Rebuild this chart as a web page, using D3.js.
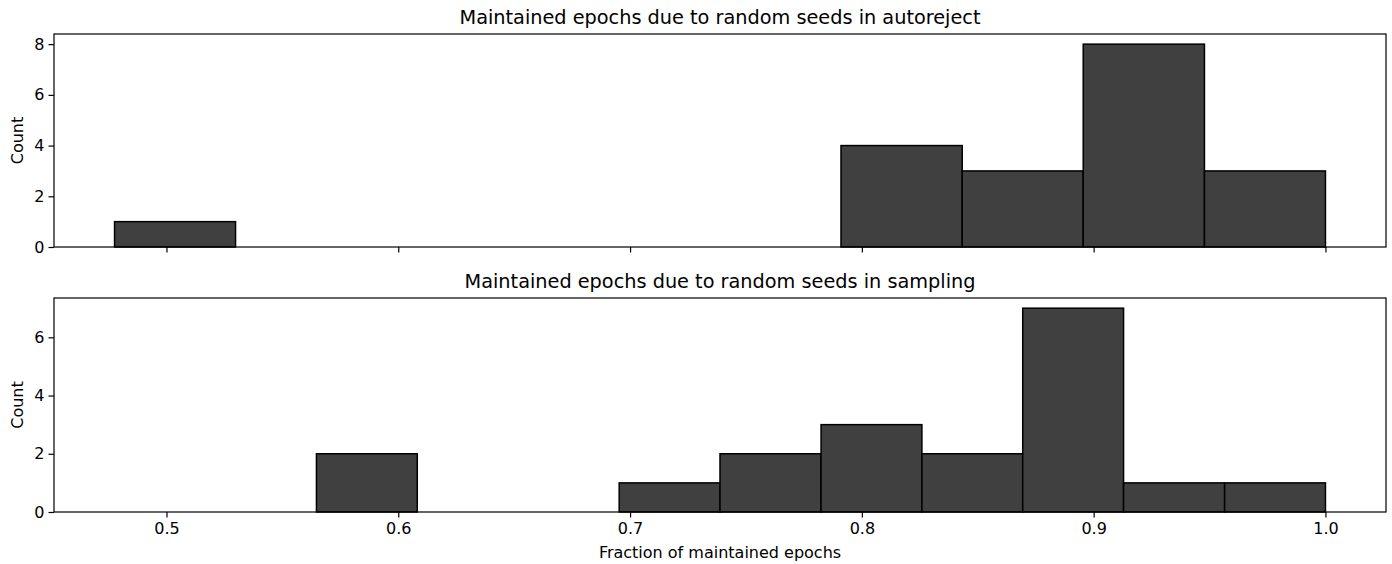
<!DOCTYPE html>
<html>
<head>
<meta charset="utf-8">
<script src="https://cdn.jsdelivr.net/npm/d3@7"></script>
<style>
  body { margin: 0; background: #fff; }
  text { font-family: "DejaVu Sans", sans-serif; fill: #000; }
</style>
</head>
<body>
<svg id="chart" width="1392" height="564"></svg>
<script>
// Data
const titles = ["Maintained epochs due to random seeds in autoreject",
                "Maintained epochs due to random seeds in sampling"];
const edgesAutoreject = [0.4776, 0.5298, 0.5821, 0.6343, 0.6866, 0.7388, 0.7910, 0.8433, 0.8955, 0.9478, 1.0];
const countsAutoreject = [1, 0, 0, 0, 0, 0, 4, 3, 8, 3];
const edgesSampling = [0.5647, 0.6082, 0.6518, 0.6953, 0.7388, 0.7824, 0.8259, 0.8694, 0.9129, 0.9565, 1.0];
const countsSampling = [2, 0, 0, 1, 2, 3, 2, 7, 1, 1];
const xTicks = [0.5, 0.6, 0.7, 0.8, 0.9, 1.0];
const yTicksAutoreject = [0, 2, 4, 6, 8];
const yTicksSampling = [0, 2, 4, 6];
const xLabel = "Fraction of maintained epochs";
const yLabel = "Count";

const svg = d3.select("#chart");
const left = 54, right = 1386;
const xmin = 0.4776, xmax = 1.0, pad = (xmax - xmin) * 0.05;
const x = d3.scaleLinear().domain([xmin - pad, xmax + pad]).range([left, right]);
const tickFont = "16px", titleFont = "19.3px";

const panels = [
  {top: 34, bottom: 247, edges: edgesAutoreject, counts: countsAutoreject, yTicks: yTicksAutoreject, title: titles[0], showX: false},
  {top: 298, bottom: 512, edges: edgesSampling, counts: countsSampling, yTicks: yTicksSampling, title: titles[1], showX: true}
];

panels.forEach(p => {
  const ymax = d3.max(p.counts) * 1.05;
  const y = d3.scaleLinear().domain([0, ymax]).range([p.bottom, p.top]);
  const g = svg.append("g");
  const bins = p.counts.map((c, i) => ({x0: p.edges[i], x1: p.edges[i + 1], c}));
  g.selectAll("rect.bar").data(bins).enter().append("rect")
    .attr("class", "bar")
    .attr("x", d => x(d.x0))
    .attr("width", d => x(d.x1) - x(d.x0))
    .attr("y", d => y(d.c))
    .attr("height", d => y(0) - y(d.c))
    .attr("fill", "#404040")
    .attr("stroke", "#000")
    .attr("stroke-width", 1.5);

  // frame
  g.append("rect").attr("x", left).attr("y", p.top)
    .attr("width", right - left).attr("height", p.bottom - p.top)
    .attr("fill", "none").attr("stroke", "#000").attr("stroke-width", 1.2);

  // y axis
  const ya = d3.axisLeft(y).tickValues(p.yTicks).tickFormat(d3.format("d")).tickSize(5.5).tickPadding(4);
  const yg = g.append("g").attr("transform", `translate(${left},0)`).call(ya);
  yg.select(".domain").remove();
  yg.selectAll("line").attr("stroke", "#000").attr("stroke-width", 1.2);
  yg.selectAll("text").attr("font-size", tickFont).attr("font-family", "DejaVu Sans").attr("fill", "#000");

  // x axis
  const xa = d3.axisBottom(x).tickValues(xTicks).tickFormat(d3.format(".1f")).tickSize(5.5).tickPadding(5);
  const xg = g.append("g").attr("transform", `translate(0,${p.bottom})`).call(xa);
  xg.select(".domain").remove();
  xg.selectAll("line").attr("stroke", "#000").attr("stroke-width", 1.2);
  xg.selectAll("text").attr("font-size", tickFont).attr("font-family", "DejaVu Sans").attr("fill", "#000")
    .style("display", p.showX ? null : "none");

  // title
  g.append("text").attr("x", (left + right) / 2).attr("y", p.top - 10)
    .attr("text-anchor", "middle").attr("font-size", titleFont).text(p.title);

  // y label
  g.append("text").attr("transform", `translate(23,${(p.top + p.bottom) / 2}) rotate(-90)`)
    .attr("text-anchor", "middle").attr("font-size", tickFont).text(yLabel);
});

svg.append("text").attr("x", (left + right) / 2).attr("y", 558)
  .attr("text-anchor", "middle").attr("font-size", tickFont).text(xLabel);
</script>
</body>
</html>
